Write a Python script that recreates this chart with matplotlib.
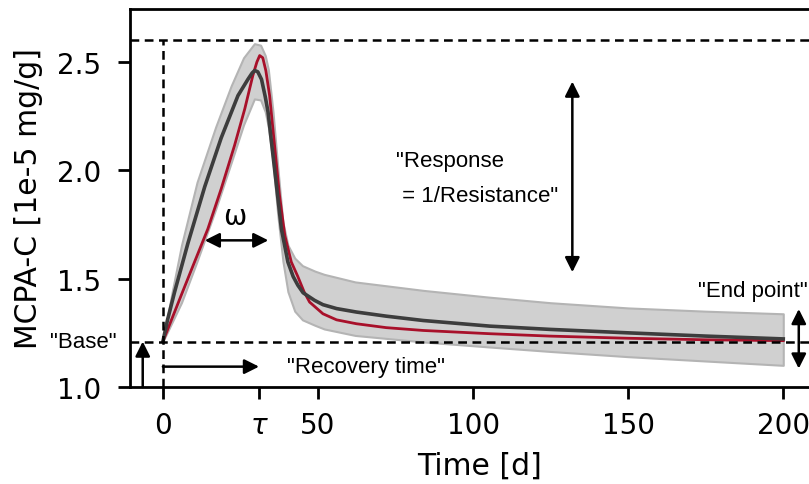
import matplotlib
matplotlib.use('Agg')
import matplotlib.pyplot as plt

# ensemble mean (dark line)
mean_t = [0, 1.5, 3.8, 8.1, 13.5, 18.8, 24.2, 27.4, 28.8, 29.6, 30.6, 31.8, 33.0, 33.9, 36.0, 38.2,
          40.3, 42.0, 43.5, 45.2, 48.9, 51.6, 56, 62.4, 72, 83.9, 105.4, 124.7, 150, 175, 200]
mean_c = [1.21, 1.31, 1.44, 1.665, 1.925, 2.15, 2.345, 2.42, 2.45, 2.461, 2.455, 2.42, 2.34, 2.269, 2.007, 1.730,
          1.577, 1.51, 1.47, 1.435, 1.40, 1.38, 1.362, 1.346, 1.327, 1.307, 1.281, 1.266, 1.25, 1.235, 1.222]

# single simulation (red line)
red_t = [0, 5.9, 10.2, 14.5, 18.8, 23.1, 26.4, 29.0, 30.3, 31.2, 32.2, 33.2, 34.4, 36.0, 37.6,
         39.3, 41.4, 43.5, 45.5, 47.3, 51.6, 56, 62.4, 72, 83.9, 105.4, 124.7, 150, 175, 200]
red_c = [1.21, 1.423, 1.577, 1.73, 1.915, 2.115, 2.284, 2.438, 2.50, 2.53, 2.52, 2.46, 2.346, 2.115, 1.884,
         1.70, 1.577, 1.51, 1.44, 1.392, 1.338, 1.31, 1.292, 1.274, 1.261, 1.246, 1.235, 1.225, 1.218, 1.214]

# uncertainty band
band_t = [0, 3, 6, 11, 17, 22, 26, 29.5, 31.5, 33, 34, 35.5, 37, 38.7, 40.3, 42.5, 45, 49, 52,
          62, 84, 105, 125, 150, 175, 200]
band_hi = [1.21, 1.44, 1.655, 1.945, 2.20, 2.39, 2.52, 2.585, 2.578, 2.53, 2.465, 2.27, 2.02, 1.76, 1.655,
           1.595, 1.56, 1.535, 1.52, 1.485, 1.446, 1.415, 1.389, 1.365, 1.35, 1.338]
band_lo = [1.21, 1.30, 1.39, 1.58, 1.82, 2.035, 2.21, 2.33, 2.325, 2.27, 2.20, 2.04, 1.80, 1.58, 1.44,
           1.35, 1.31, 1.285, 1.268, 1.238, 1.208, 1.185, 1.164, 1.14, 1.12, 1.10]

base = 1.21
peak = 2.6
tau = 31

xticks = [0, tau, 50, 100, 150, 200]
xticklabels = ['0', r'$\tau$', '50', '100', '150', '200']
yticks = [1.0, 1.5, 2.0, 2.5]

fig = plt.figure(figsize=(8.09, 4.85), dpi=100)
ax = fig.add_axes([0.1607, 0.2, 0.865, 0.7794])

ax.fill_between(band_t, band_lo, band_hi, facecolor='#d0d0d0', edgecolor='#b4b4b4', lw=1.5, zorder=1)
ax.plot(mean_t, mean_c, color='#3d3d3d', lw=2.6, zorder=3)
ax.plot(red_t, red_c, color='#a8102a', lw=2.0, zorder=2.5)

# dashed guide lines
dash = dict(color='black', lw=1.8, dashes=(3.5, 2.2), zorder=4)
ax.axhline(peak, **dash)
ax.axhline(base, **dash)
ax.plot([0, 0], [1.0, peak], **dash)

ann = 'Liberation Sans'
arr = dict(color='black', lw=1.8, mutation_scale=22, shrinkA=0, shrinkB=0)
ax.annotate('', xy=(132, 2.41), xytext=(132, 1.53), arrowprops=dict(arrowstyle='<|-|>', **arr))
ax.annotate('', xy=(13.5, 1.677), xytext=(34, 1.677), arrowprops=dict(arrowstyle='<|-|>', **arr))
ax.annotate('', xy=(31, 1.094), xytext=(0, 1.094), arrowprops=dict(arrowstyle='-|>', **arr))
ax.annotate('', xy=(-6.5, base), xytext=(-6.5, 1.0), arrowprops=dict(arrowstyle='-|>', **arr))
ax.annotate('', xy=(205, 1.36), xytext=(205, 1.085), arrowprops=dict(arrowstyle='<|-|>', **arr))

ax.text(75, 1.965, '"Response\n = 1/Resistance"', fontsize=16, family=ann, ha='left', va='center',
        linespacing=1.85)
ax.text(40, 1.094, '"Recovery time"', fontsize=16, family=ann, ha='left', va='center')
ax.text(190.2, 1.444, '"End point"', fontsize=16, family=ann, ha='center', va='center')
ax.text(-14.8, base, '"Base"', fontsize=16, family=ann, ha='right', va='center')
ax.text(23.3, 1.79, '\u03c9', fontsize=20, ha='center', va='center')

ax.set_xlim(-10.6, 215)
ax.set_ylim(1.0, 2.745)
ax.set_xticks(xticks, xticklabels)
ax.set_yticks(yticks)
ax.tick_params(axis='both', labelsize=20, length=8.5, width=2)
ax.tick_params(axis='x', pad=9)
ax.tick_params(axis='y', pad=12)
for sp in ax.spines.values():
    sp.set_linewidth(2)

ax.set_xlabel('Time [d]', fontsize=21.5, labelpad=8)
ax.set_ylabel('MCPA-C [1e-5 mg/g]', fontsize=21.5, labelpad=10)

fig.savefig('out.png', dpi=100)
